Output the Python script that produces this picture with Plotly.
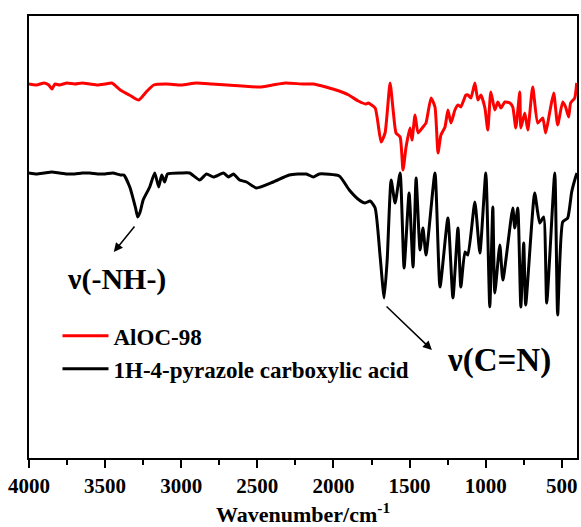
import plotly.graph_objects as go

# AlOC-98 (red) spectrum: wavenumber (cm-1) and intensity (a.u.)
aloc_wn = [4000, 3950, 3900, 3870, 3849, 3830, 3800, 3750, 3700, 3650, 3600, 3550, 3500, 3456,
           3400, 3330, 3279, 3230, 3181, 3100, 3000, 2900, 2800, 2700, 2600, 2486, 2400, 2316,
           2200, 2132, 2050, 1962, 1900, 1837, 1785, 1772, 1726, 1687, 1661, 1628, 1608, 1589,
           1562, 1543, 1523, 1497, 1484, 1464, 1444, 1412, 1392, 1359, 1333, 1313, 1294, 1267,
           1248, 1228, 1202, 1182, 1163, 1130, 1117, 1097, 1071, 1051, 1031, 1005, 986, 966,
           940, 920, 900, 874, 841, 822, 802, 776, 769, 743, 723, 691, 658, 625, 606, 579, 553,
           527, 494, 475, 455, 442, 415, 402]
aloc_int = [374, 373, 375, 373, 369, 374, 373, 375, 374, 375, 374, 373, 374, 375,
            368, 362, 358, 366, 373, 374, 373, 375, 374, 373, 372, 371, 373, 375,
            374, 374, 371, 367, 363, 357, 354, 355, 350, 316, 325, 375, 348, 325,
            321, 288, 311, 330, 318, 343, 325, 331, 335, 360, 351, 305, 323, 331,
            348, 335, 348, 353, 351, 363, 363, 360, 375, 358, 363, 350, 328, 366,
            348, 356, 350, 356, 355, 351, 330, 366, 330, 345, 328, 371, 335, 340, 325, 346, 365,
            333, 356, 351, 341, 355, 360, 375]

# 1H-4-pyrazole carboxylic acid (black) spectrum
pz_wn = [4000, 3950, 3900, 3850, 3800, 3750, 3700, 3650, 3600, 3550, 3500, 3450, 3400, 3377,
         3338, 3300, 3286, 3270, 3250, 3207, 3174, 3148, 3128, 3109, 3090, 3000, 2945, 2879,
         2834, 2788, 2722, 2689, 2657, 2617, 2571, 2506, 2395, 2290, 2178, 2132, 2093, 1962,
         1896, 1831, 1792, 1759, 1726, 1693, 1667, 1647, 1621, 1595, 1562, 1536, 1503, 1477,
         1457, 1431, 1412, 1392, 1333, 1300, 1248, 1215, 1182, 1163, 1136, 1117, 1071, 1038,
         999, 973, 953, 940, 907, 887, 822, 809, 789, 769, 750, 737, 678, 645, 619, 599, 546,
         527, 494, 461, 435, 409, 400]
pz_int = [285, 284, 285, 286, 285, 284, 284, 285, 285, 284, 284, 285, 283, 283,
          271, 250, 241, 246, 258, 271, 285, 271, 283, 276, 284, 285, 285, 278,
          284, 281, 285, 281, 284, 278, 276, 270, 276, 283, 284, 281, 284, 282,
          268, 258, 255, 257, 250, 201, 160, 198, 278, 255, 285, 190, 265, 191,
          280, 208, 230, 203, 285, 171, 240, 160, 230, 171, 206, 203, 256, 205,
          285, 151, 251, 165, 213, 178, 250, 230, 250, 151, 215, 153, 265, 235, 241, 155, 285,
          143, 236, 240, 266, 281, 285]

x_ticks = [4000, 3500, 3000, 2500, 2000, 1500, 1000, 500]
series_names = ["AlOC-98", "1H-4-pyrazole carboxylic acid"]

FONT = "Liberation Serif, Times New Roman, serif"

fig = go.Figure()
fig.add_trace(go.Scatter(x=aloc_wn, y=aloc_int, mode="lines", name=series_names[0],
                         line=dict(color="#ff0000", width=3, shape="spline", smoothing=0.5)))
fig.add_trace(go.Scatter(x=pz_wn, y=pz_int, mode="lines", name=series_names[1],
                         line=dict(color="#000000", width=3, shape="spline", smoothing=0.5)))

# annotation arrows and labels
fig.add_annotation(x=3443, y=206, ax=3299, ay=233, xref="x", yref="y", axref="x", ayref="y",
                   text="", showarrow=True, arrowhead=2, arrowsize=1.2, arrowwidth=1.5,
                   arrowcolor="black")
fig.add_annotation(x=3425, y=179, xref="x", yref="y", text="ν(-NH-)", showarrow=False,
                   font=dict(family=FONT, size=30, color="black", weight="bold"))
fig.add_annotation(x=1353, y=108, ax=1661, ay=153, xref="x", yref="y", axref="x", ayref="y",
                   text="", showarrow=True, arrowhead=2, arrowsize=1.2, arrowwidth=1.5,
                   arrowcolor="black")
fig.add_annotation(x=914, y=98, xref="x", yref="y", text="ν(C=N)", showarrow=False,
                   font=dict(family=FONT, size=33, color="black", weight="bold"))

fig.update_layout(
    width=581, height=527,
    margin=dict(l=29, r=2, t=16, b=69),
    paper_bgcolor="white", plot_bgcolor="white",
    font=dict(family=FONT, color="black", weight="bold"),
    showlegend=True,
    legend=dict(x=0.052, y=0.325, xanchor="left", yanchor="top", itemwidth=46,
                font=dict(family=FONT, size=23, color="black", weight="bold"),
                bgcolor="rgba(0,0,0,0)", tracegroupgap=0),
    xaxis=dict(range=[4000, 400], tickvals=x_ticks, ticks="outside", ticklen=8, tickwidth=2,
               tickcolor="black", showline=True, linewidth=2, linecolor="black", mirror=True,
               showgrid=False, zeroline=False,
               tickfont=dict(family=FONT, size=21, color="black", weight="bold"),
               minor=dict(dtick=250, ticks="outside", ticklen=5, tickwidth=2, tickcolor="black"),
               title=dict(text="Wavenumber/cm<sup>-1</sup>", standoff=11,
                          font=dict(family=FONT, size=22, color="black", weight="bold"))),
    yaxis=dict(range=[0, 442], showticklabels=False, ticks="", showline=True, linewidth=2,
               linecolor="black", mirror=True, showgrid=False, zeroline=False),
)

fig.write_html("out.html")
